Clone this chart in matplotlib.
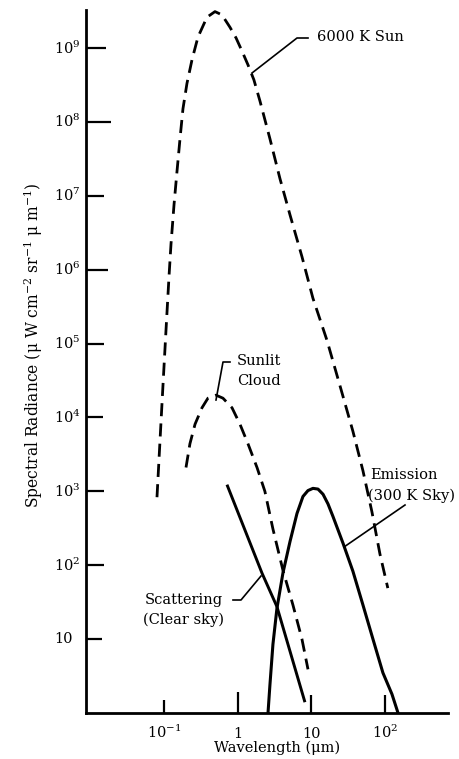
import matplotlib
matplotlib.use("Agg")
import matplotlib.pyplot as plt
from matplotlib.ticker import NullLocator

plt.rcParams['font.family'] = ['DejaVu Serif']
plt.rcParams['mathtext.fontset'] = 'dejavuserif'

# ---------------- data ----------------
sun_wl = [0.0804, 0.0883, 0.0969, 0.1064, 0.1169, 0.1245, 0.1368, 0.150, 0.165, 0.181,
          0.205, 0.240, 0.289, 0.383, 0.492, 0.612, 0.787, 0.949, 1.143, 1.38, 1.66,
          2.01, 2.74, 3.75, 5.13, 7.45, 10.5, 16.3, 24.4, 36.6, 50.1, 66.4, 85.3, 109]
sun_rad = [832, 4.8e3, 2.7e4, 1.48e5, 7.9e5, 2.2e6, 7.5e6, 2.1e7, 5.9e7, 1.5e8,
           3.3e8, 6.9e8, 1.4e9, 2.6e9, 3.1e9, 2.8e9, 1.9e9, 1.37e9, 9.1e8, 5.9e8, 3.7e8,
           1.9e8, 5.9e7, 1.7e7, 5.5e6, 1.5e6, 4.1e5, 1.1e5, 2.7e4, 6.5e3, 1.9e3, 525, 141, 49]

cloud_wl = [0.199, 0.225, 0.264, 0.328, 0.395, 0.508, 0.632, 0.838, 1.074, 1.38,
            1.83, 2.34, 3.01, 4.12, 5.62, 7.45, 9.0]
cloud_rad = [2.1e3, 4.4e3, 8.1e3, 1.35e4, 1.82e4, 2.0e4, 1.82e4, 1.35e4, 8.1e3, 4.4e3,
             2.1e3, 1.0e3, 309, 85, 29, 10, 3.9]

scat_wl = [0.716, 2.14, 3.41, 8.18]
scat_rad = [1230, 78, 27.5, 1.4]

emis_wl = [2.58, 2.74, 3.01, 3.41, 4.12, 5.13, 6.38, 7.69, 8.99, 10.5, 12.3, 14.4,
           16.8, 19.6, 26.9, 36.6, 50.1, 68.5, 93.5, 124, 150]
emis_rad = [1.0, 2.4, 8.5, 26, 79, 209, 501, 851, 1023, 1096, 1072, 912,
            676, 459, 198, 83, 29, 10, 3.5, 1.8, 1.0]

xtick_vals = [0.1, 1, 10, 100]
xtick_labels = ['10$^{-1}$', '1', '10', '10$^{2}$']
ytick_vals = [10, 1e2, 1e3, 1e4, 1e5, 1e6, 1e7, 1e8, 1e9]
ytick_labels = ['10', '10$^{2}$', '10$^{3}$', '10$^{4}$', '10$^{5}$',
                '10$^{6}$', '10$^{7}$', '10$^{8}$', '10$^{9}$']

xlabel = 'Wavelength (μm)'
ylabel = 'Spectral Radiance (μ W cm$^{-2}$ sr$^{-1}$ μ m$^{-1}$)'

# ---------------- layout ----------------
W, H = 460, 759
fig = plt.figure(figsize=(W / 100, H / 100), dpi=100)
L, R, B, T = 86, 448, 713, 10
ax = fig.add_axes([L / W, 1 - B / H, (R - L) / W, (B - T) / H])
XL = (-2.058, 2.854)
YL = (0.0, 9.513)
ax.set_xscale('log')
ax.set_yscale('log')
ax.set_xlim(10 ** XL[0], 10 ** XL[1])
ax.set_ylim(10 ** YL[0], 10 ** YL[1])


def P(xp, yp):
    """pixel position -> data coordinates"""
    x = 10 ** (XL[0] + (xp - L) / (R - L) * (XL[1] - XL[0]))
    y = 10 ** (YL[0] + (B - yp) / (B - T) * (YL[1] - YL[0]))
    return x, y


for s in ['top', 'right']:
    ax.spines[s].set_visible(False)
for s in ['left', 'bottom']:
    ax.spines[s].set_linewidth(2.0)

ax.set_xticks(xtick_vals)
ax.set_yticks(ytick_vals)
ax.set_xticklabels([])
ax.set_yticklabels([])
ax.xaxis.set_minor_locator(NullLocator())
ax.yaxis.set_minor_locator(NullLocator())
ax.tick_params(which='major', direction='in', length=12, width=1.6, color='black')
xlens = [13, 21, 18, 18]
ylens = [16, 18, 18, 17, 18, 22, 18, 25, 20]
for t, l in zip(ax.xaxis.get_major_ticks(), xlens):
    t.tick1line.set_markersize(l * 0.72)
for t, l in zip(ax.yaxis.get_major_ticks(), ylens):
    t.tick1line.set_markersize(l * 0.72)

FS = 10.5
for v, s in zip(xtick_vals, xtick_labels):
    ax.text(v, P(0, 738)[1], s, ha='center', va='baseline', fontsize=FS)
for v, s in zip(ytick_vals, ytick_labels):
    ax.text(P(54, 0)[0], v, s, ha='left', va='center', fontsize=FS)

fig.text(277 / W, 1 - 748 / H, xlabel, ha='center', va='center', fontsize=FS)
fig.text(33 / W, 1 - 345 / H, ylabel, ha='center', va='center', rotation=90, fontsize=11.2)

# ---------------- curves ----------------
ax.plot(sun_wl, sun_rad, color='black', lw=2.0, dashes=(4.7, 2.6),
        dash_capstyle='butt', dash_joinstyle='round')
ax.plot(cloud_wl, cloud_rad, color='black', lw=2.0, dashes=(4.7, 2.6),
        dash_capstyle='butt', dash_joinstyle='round')
ax.plot(scat_wl, scat_rad, color='black', lw=2.1, solid_capstyle='butt')
ax.plot(emis_wl, emis_rad, color='black', lw=2.2, solid_joinstyle='round')

# ---------------- annotations ----------------
def leader(pts):
    xs, ys = zip(*[P(*p) for p in pts])
    ax.plot(xs, ys, color='black', lw=1.2, clip_on=False)


leader([(252, 73), (297, 38), (308, 38)])
ax.text(*P(317, 37), '6000 K Sun', ha='left', va='center', fontsize=FS)

leader([(216, 400), (223, 362), (230, 362)])
ax.text(*P(237, 361), 'Sunlit', ha='left', va='center', fontsize=FS)
ax.text(*P(237, 381), 'Cloud', ha='left', va='center', fontsize=FS)

leader([(344, 547), (405, 505)])
ax.text(*P(370, 475), 'Emission', ha='left', va='center', fontsize=FS)
ax.text(*P(368, 496), '(300 K Sky)', ha='left', va='center', fontsize=FS)

leader([(233, 600), (241, 600), (261, 576)])
ax.text(*P(145, 600), 'Scattering', ha='left', va='center', fontsize=FS)
ax.text(*P(143, 620), '(Clear sky)', ha='left', va='center', fontsize=FS)

fig.savefig('out.png', dpi=100)
